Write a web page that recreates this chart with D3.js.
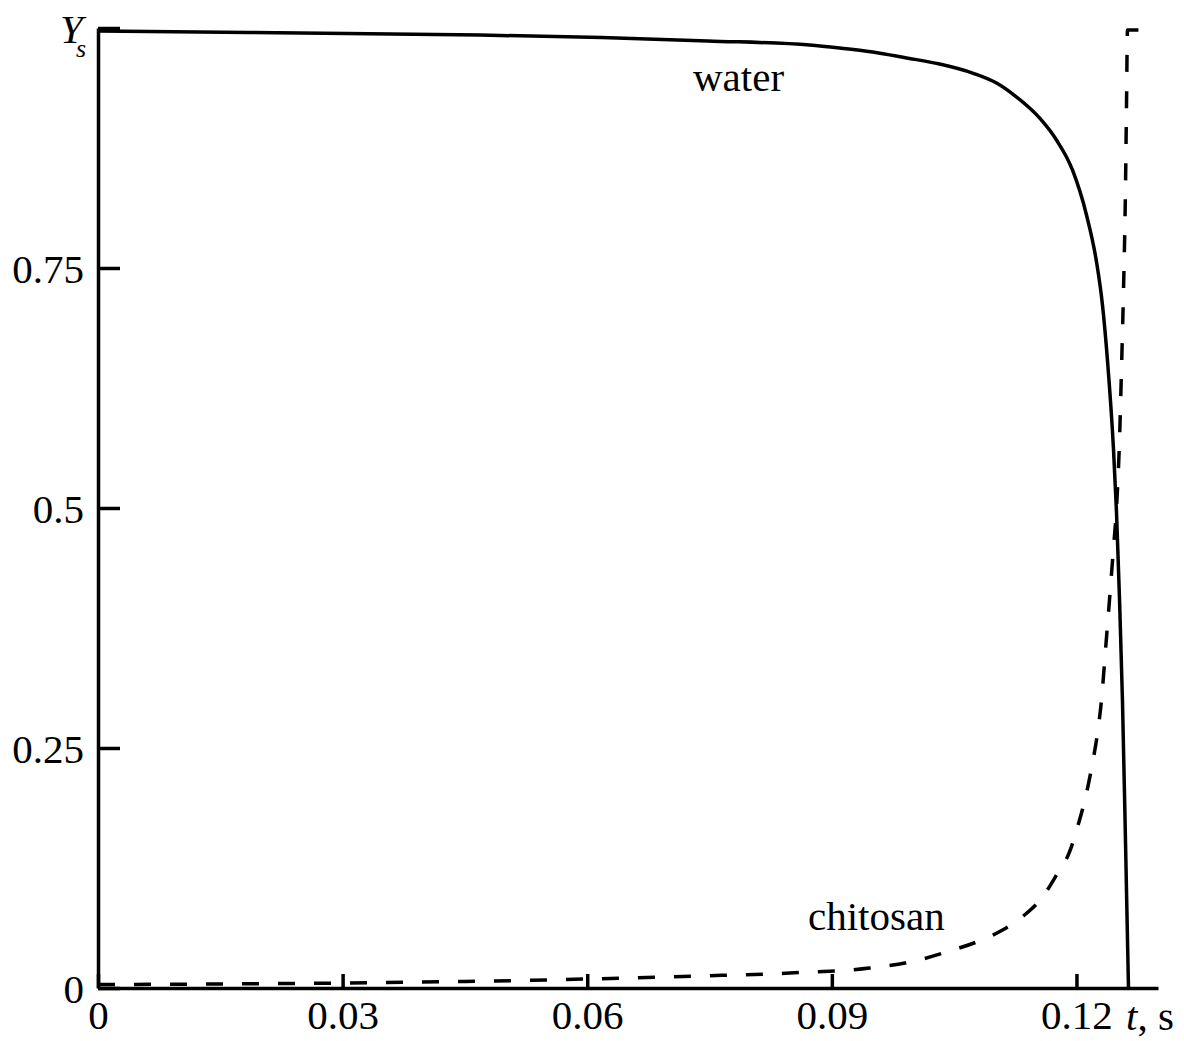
<!DOCTYPE html>
<html>
<head>
<meta charset="utf-8">
<script src="https://cdn.jsdelivr.net/npm/d3@7"></script>
<style>
  body { margin: 0; background: #fff; }
  svg text { font-family: "Liberation Serif", "Times New Roman", serif; fill: #000; }
</style>
</head>
<body>
<div id="chart"></div>
<script>
// water curve (t in s, Ys)
const waterT = [0, 0.02476, 0.04683, 0.06178, 0.07477, 0.08728, 0.09095, 0.095, 0.09917, 0.10321,
    0.10726, 0.1102, 0.11265, 0.11547, 0.11755, 0.11951, 0.12123, 0.12246, 0.12319, 0.1238,
    0.12454, 0.12491, 0.12528, 0.12564, 0.12601, 0.12638];
const waterY = [0.9969, 0.9948, 0.9927, 0.9901, 0.9865, 0.9823, 0.9792, 0.975, 0.9688, 0.9625,
    0.9531, 0.9427, 0.9281, 0.9063, 0.8833, 0.8521, 0.8052, 0.7563, 0.7115, 0.6542,
    0.5615, 0.4958, 0.4052, 0.3, 0.1542, 0];

// chitosan curve
const chitosanT = [0, 0.01495, 0.03003, 0.04499, 0.06006, 0.07379, 0.08483, 0.09463, 0.10039, 0.10444,
    0.10775, 0.11093, 0.11363, 0.11584, 0.11755, 0.11915, 0.12013, 0.12123, 0.12197, 0.12258,
    0.12307, 0.12356, 0.12405, 0.12454, 0.12491, 0.12528, 0.12552, 0.12577, 0.12601, 0.12613,
    0.12626, 0.12773];
const chitosanY = [0.0036, 0.0042, 0.0052, 0.0068, 0.0094, 0.0125, 0.0156, 0.0208, 0.0286, 0.0385,
    0.0479, 0.0604, 0.076, 0.0948, 0.1177, 0.1417, 0.1677, 0.2031, 0.2344, 0.2656,
    0.3, 0.3521, 0.4042, 0.4583, 0.5, 0.5708, 0.6438, 0.7271, 0.8313, 0.9146,
    0.9979, 0.9979];

const xTicks = [0, 0.03, 0.06, 0.09, 0.12];
const yTicks = [0, 0.25, 0.5, 0.75, 1];

const width = 1184, height = 1041;
const fontSize = 41;

const svg = d3.select("#chart").append("svg")
    .attr("width", width)
    .attr("height", height);

const x = d3.scaleLinear().domain([0, 0.13]).range([98, 1158]);
const y = d3.scaleLinear().domain([0, 1]).range([988, 28]);

// x axis
const xAxis = svg.append("g")
    .attr("transform", `translate(0,${y(0)})`)
    .call(d3.axisBottom(x)
        .tickValues(xTicks)
        .tickSizeInner(-14)
        .tickSizeOuter(0)
        .tickPadding(12)
        .tickFormat(d => d === 0 ? "0" : d3.format(".2f")(d)));

// y axis
const yAxis = svg.append("g")
    .attr("transform", `translate(${x(0)},0)`)
    .call(d3.axisLeft(y)
        .tickValues(yTicks)
        .tickSizeInner(-22)
        .tickSizeOuter(0)
        .tickPadding(14)
        .tickFormat(d => d === 1 ? "" : d3.format("~g")(d)));

[xAxis, yAxis].forEach(g => {
    g.select(".domain").attr("stroke", "#000").attr("stroke-width", 3.5);
    g.selectAll(".tick line").attr("stroke", "#000").attr("stroke-width", 3.5);
    g.selectAll(".tick text")
        .attr("fill", "#000")
        .style("font-size", fontSize + "px")
        .style("font-family", "'Liberation Serif', serif");
});
yAxis.selectAll(".tick text").attr("dy", "0.36em");

// curves
const line = d3.line()
    .x(d => x(d[0]))
    .y(d => y(d[1]))
    .curve(d3.curveMonotoneX);

svg.append("path")
    .datum(waterT.map((t, i) => [t, waterY[i]]))
    .attr("d", line)
    .attr("fill", "none")
    .attr("stroke", "#000")
    .attr("stroke-width", 3.5);

svg.append("path")
    .datum(chitosanT.map((t, i) => [t, chitosanY[i]]))
    .attr("d", line)
    .attr("fill", "none")
    .attr("stroke", "#000")
    .attr("stroke-width", 3.5)
    .attr("stroke-dasharray", "17,19");

// axis titles
const yTitle = svg.append("text")
    .attr("x", 60)
    .attr("y", 43)
    .style("font-size", fontSize + "px");
yTitle.append("tspan").style("font-style", "italic").text("Y");
yTitle.append("tspan")
    .attr("x", 76)
    .attr("y", 57)
    .style("font-style", "italic")
    .style("font-size", "26px")
    .text("s");

const xTitle = svg.append("text")
    .attr("x", 1126)
    .attr("y", 1030)
    .style("font-size", fontSize + "px");
xTitle.append("tspan").style("font-style", "italic").text("t");
xTitle.append("tspan").text(", s");

// curve labels
svg.append("text")
    .attr("x", 693)
    .attr("y", 91)
    .style("font-size", fontSize + "px")
    .text("water");

svg.append("text")
    .attr("x", 808)
    .attr("y", 930)
    .style("font-size", fontSize + "px")
    .text("chitosan");
</script>
</body>
</html>
